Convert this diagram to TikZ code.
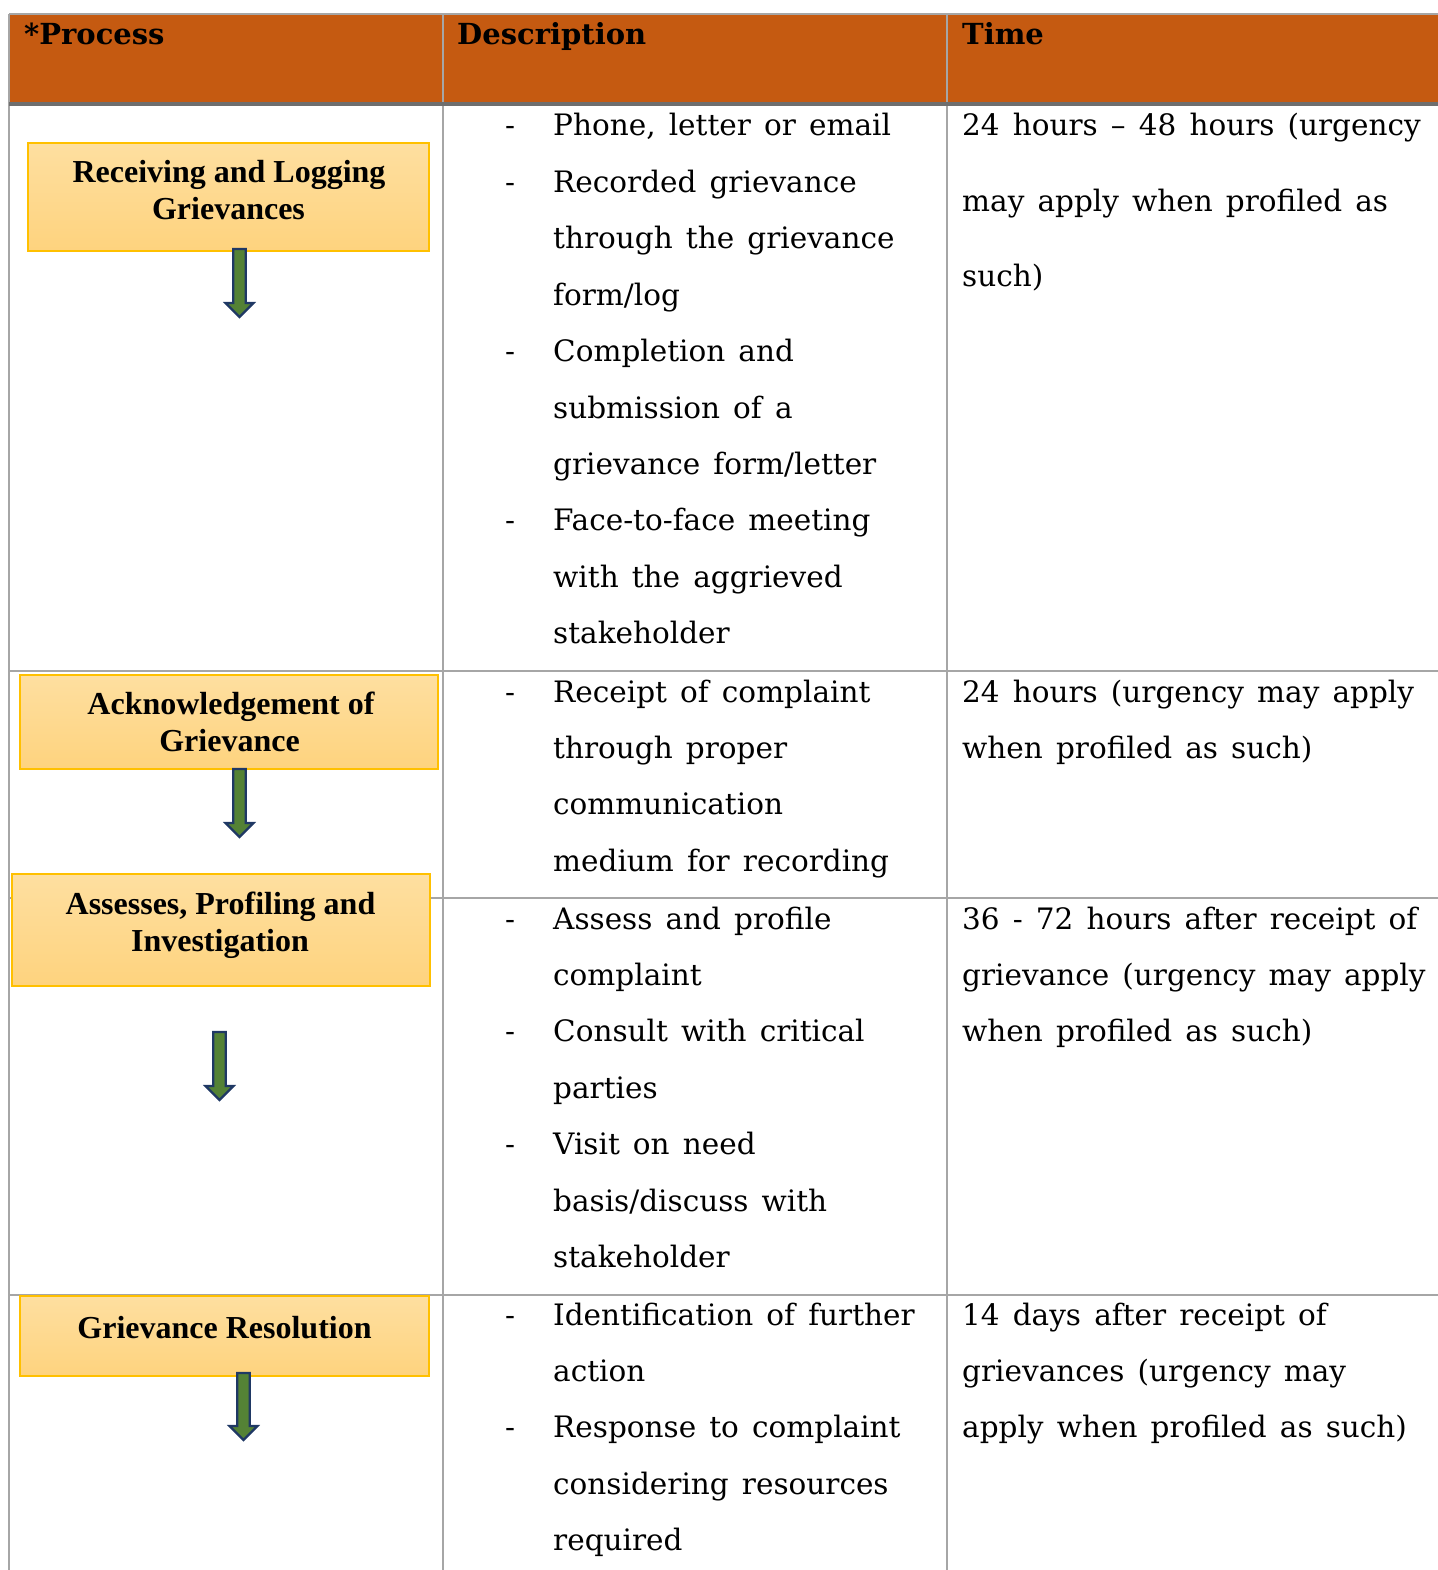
\documentclass[tikz,border=0pt]{standalone}
\usepackage{fontspec}
\setmainfont{DejaVu Serif}[WordSpace=1.4]
\newfontfamily\boxfont{Liberation Serif}
\definecolor{hdr}{HTML}{C55A11}
\definecolor{gridc}{HTML}{A6A6A6}
\definecolor{hdrline}{HTML}{6E6E6E}
\definecolor{boxtop}{HTML}{FEDFA0}
\definecolor{boxbot}{HTML}{FED37E}
\definecolor{boxedge}{HTML}{FFC000}
\definecolor{arrfill}{HTML}{548235}
\definecolor{arredge}{HTML}{1F3864}
\tikzset{
 gridline/.style={draw=gridc,line width=2pt},
 hdrtext/.style={anchor=base west,inner sep=0,font=\fontsize{29}{34}\selectfont\bfseries},
 desc/.style={anchor=base west,inner sep=0,font=\fontsize{29.5}{34}\selectfont},
 procbox/.style={draw=boxedge,line width=1.5pt,top color=boxtop,bottom color=boxbot,inner sep=0},
 proctext/.style={anchor=base,inner sep=0,font=\boxfont\fontsize{32}{37}\selectfont\bfseries},
 blockarrow/.style={fill=arrfill,draw=arredge,line width=2.2pt,line join=miter},
}
\newcommand\cellines[5]{\foreach \t [count=\i] in {#5} {\node[desc] (#1\i) at (#2,{#3+#4*(\i-1)}) {\t};}}
\newcommand\garrow[3]{\draw[blockarrow] ({#1-6.3},#2) -- ({#1+6.3},#2) -- ({#1+6.3},{#3-15}) -- ({#1+14},{#3-15}) -- (#1,{#3-1}) -- ({#1-14},{#3-15}) -- ({#1-6.3},{#3-15}) -- cycle;}
\begin{document}
\begin{tikzpicture}[x=1pt,y=-1pt]
\useasboundingbox (0,0) rectangle (1437,1570);
% header
\fill[hdr] (9,14) rectangle (1440,104);
\draw[gridline] (9,14) -- (1440,14);
% verticals
\draw[gridline] (9,14) -- (9,1575);
\draw[gridline] (443,14) -- (443,1575);
\draw[gridline] (947,14) -- (947,1575);
% row lines
\draw[gridline] (9,671) -- (1440,671);
\draw[gridline] (9,898) -- (1440,898);
\draw[gridline] (9,1295) -- (1440,1295);
\draw[draw=hdrline,line width=4pt] (9,104) -- (1440,104);
% header texts
\node[hdrtext] (h1) at (24,45) {*Process};
\node[hdrtext] (h2) at (457,45) {Description};
\node[hdrtext] (h3) at (962,45) {Time};
% process boxes
\node[procbox,minimum width=401pt,minimum height=108pt] (b1) at (228.5,197) {};
\node[procbox,minimum width=418pt,minimum height=94pt] (b2) at (229,722) {};
\node[procbox,minimum width=418pt,minimum height=112pt] (b3) at (221,930) {};
\node[procbox,minimum width=409pt,minimum height=80pt] (b4) at (224.5,1336) {};
\node[proctext] (t1a) at (229,182.5) {Receiving and Logging};
\node[proctext] (t1b) at (228.5,220) {Grievances};
\node[proctext] (t2a) at (231,714) {Acknowledgement of};
\node[proctext] (t2b) at (229.5,751) {Grievance};
\node[proctext] (t3a) at (220.5,914) {Assesses, Profiling and};
\node[proctext] (t3b) at (220,951.5) {Investigation};
\node[proctext] (t4a) at (224.5,1338) {Grievance Resolution};
% arrows
\garrow{239.5}{249}{318}
\garrow{239.5}{769}{838}
\garrow{219.5}{1032}{1101}
\garrow{243.5}{1373}{1441}
% dashes
\foreach \y [count=\i] in {136,192.4,361.6,530.8,702,929,1041.8,1154.6,1325,1437.8}
 {\node[desc] (dash\i) at (505,\y) {-};}
% description cells
\cellines{da}{553}{136}{56.4}{{Phone, letter or email},{Recorded grievance},{through the grievance},{form/log},{Completion and},{submission of a},{grievance form/letter},{Face-to-face meeting},{with the aggrieved},{stakeholder}}
\cellines{db}{553}{702}{56.4}{{Receipt of complaint},{through proper},{communication},{medium for recording}}
\cellines{dc}{553}{929}{56.4}{{Assess and profile},{complaint},{Consult with critical},{parties},{Visit on need},{basis/discuss with},{stakeholder}}
\cellines{dd}{553}{1325}{56.4}{{Identification of further},{action},{Response to complaint},{considering resources},{required}}
% time cells
\cellines{ta}{962}{136}{75.3}{{24 hours – 48 hours (urgency},{may apply when profiled as},{such)}}
\cellines{tb}{962}{702}{56.4}{{24 hours (urgency may apply},{when profiled as such)}}
\cellines{tc}{962}{929}{56.4}{{36 - 72 hours after receipt of},{grievance (urgency may apply},{when profiled as such)}}
\cellines{td}{962}{1325}{56.4}{{14 days after receipt of},{grievances (urgency may},{apply when profiled as such)}}
\end{tikzpicture}
\end{document}
